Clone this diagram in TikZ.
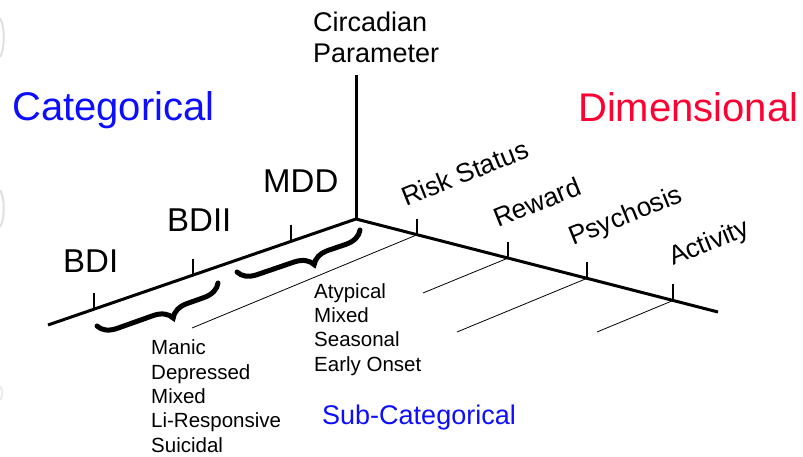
\documentclass[tikz,border=0pt]{standalone}
\usepackage{fontspec}
\setmainfont{Liberation Sans}
\usetikzlibrary{positioning,calc,decorations.pathreplacing}

\begin{document}
\begin{tikzpicture}[x=1pt,y=-1pt]
	\definecolor{catblue}{rgb}{0.05,0.05,1}
	\definecolor{dimred}{rgb}{1,0,0.2}
	\tikzset{
		axis/.style={line width=3pt,line join=miter},
		tickmark/.style={line width=2.5pt},
		guide/.style={line width=0.8pt},
		curly/.style={decorate,decoration={brace,amplitude=18pt,aspect=0.42},line width=5pt,line cap=round},
		lbl/.style={inner sep=0pt,anchor=base west},
		sublist/.style={lbl,align=left,font=\fontsize{20.5}{24.3}\selectfont},
		dimlbl/.style={lbl,rotate=22,font=\fontsize{26.5}{30}\selectfont},
		catlbl/.style={lbl,font=\fontsize{33}{40}\selectfont}
	}
	\useasboundingbox (0,0) rectangle (803,457);
	\draw[black!12,line width=2pt] (0,18) .. controls (5,26) and (5,49) .. (0,57);
	\draw[black!12,line width=2pt] (0,190) .. controls (5,198) and (5,219) .. (0,227);
	\draw[black!8,line width=2pt] (0,386) .. controls (3,390) and (3,396) .. (0,400);
	\coordinate (O) at (356,219);
	\coordinate (T) at (356,75);
	\coordinate (L) at (48,325);
	\coordinate (R) at (718,312);
	\draw[axis] (L) -- (O) -- (R);
	\draw[axis] (T) -- (O);
	\node[lbl,align=left,font=\fontsize{27}{31}\selectfont] (circ) at (313,63) {Circadian\\Parameter};
	\node[lbl,text=catblue,font=\fontsize{40}{48}\selectfont] (cat) at (12,121) {Categorical};
	\node[lbl,text=dimred,font=\fontsize{40}{48}\selectfont] (dim) at (578,122) {Dimensional};
	\foreach \f/\n in {0.149/bdi,0.471/bdii,0.789/mdd}
		\coordinate (\n) at ($(L)!\f!(O)$);
	\foreach \n in {bdi,bdii,mdd}
		\draw[tickmark] (\n) -- ++(0,-16);
	\node[catlbl] (bdilbl) at (63,272) {BDI};
	\node[catlbl] (bdiilbl) at (167,232) {BDII};
	\node[catlbl] (mddlbl) at (263,193) {MDD};
	\foreach \f/\n in {0.169/risk,0.420/rew,0.638/psy,0.876/act}
		\coordinate (\n) at ($(O)!\f!(R)$);
	\foreach \n in {risk,rew,psy,act}
		\draw[tickmark] (\n) -- ++(0,-16);
	\coordinate (riskend) at (192,328);
	\coordinate (rewend) at (423,293);
	\coordinate (psyend) at (457,332);
	\coordinate (actend) at (597,332);
	\foreach \n in {risk,rew,psy,act}
		\draw[guide] (\n) -- (\n end);
	\node[dimlbl] (risklbl) at (406,207) {Risk Status};
	\node[dimlbl] (rewlbl) at (498,228) {Reward};
	\node[dimlbl] (psylbl) at (573,246) {Psychosis};
	\node[dimlbl] (actlbl) at (673,266) {Activity};
	\coordinate (b1a) at (218,283);
	\coordinate (b1b) at (97,326);
	\coordinate (b2a) at (360,230);
	\coordinate (b2b) at (237,272);
	\draw[curly] (b1a) -- (b1b);
	\draw[curly] (b2a) -- (b2b);
	\node[sublist] (bdsub) at (151,452) {Manic\\Depressed\\Mixed\\Li-Responsive\\Suicidal};
	\node[sublist] (mddsub) at (314,371) {Atypical\\Mixed\\Seasonal\\Early Onset};
	\node[lbl,text=catblue,font=\fontsize{27}{32}\selectfont] (subcat) at (322,424) {Sub-Categorical};
\end{tikzpicture}
\end{document}
